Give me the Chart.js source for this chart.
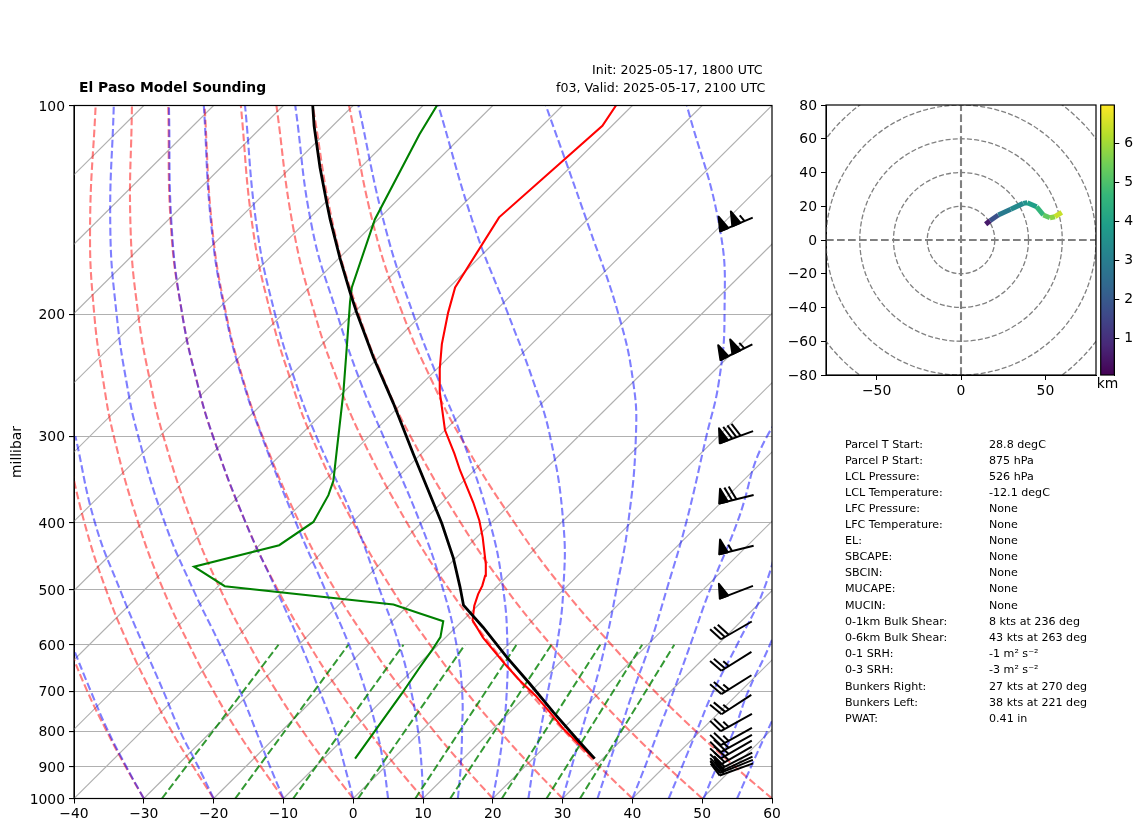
<!DOCTYPE html>
<html>
<head>
<meta charset="utf-8">
<title>El Paso Model Sounding</title>
<script src="https://cdn.jsdelivr.net/npm/chart.js@4"></script>
<style>
  body { margin: 0; background: #fff; width: 1142px; height: 832px; overflow: hidden; font-family: "DejaVu Sans", sans-serif; color: #000; }
  canvas { position: absolute; }
  .txt { position: absolute; white-space: nowrap; line-height: 1; }
</style>
</head>
<body>
<canvas id="skewt" width="1142" height="832" style="left:0;top:0"></canvas>
<canvas id="hodo" width="330" height="325" style="left:775px;top:75px"></canvas>
<canvas id="cbar" width="52" height="320" style="left:1090px;top:75px"></canvas>
<div id="texts"></div>
<script>
// axis ticks
const pressureTicks = [100, 200, 300, 400, 500, 600, 700, 800, 900, 1000];
const tempTicks = [-40, -30, -20, -10, 0, 10, 20, 30, 40, 50, 60];

// observed traces, pressure and position read on the skewed x axis
const tempP = [876, 834, 793, 751, 710, 676, 639, 586, 553, 527, 507, 493, 477, 459, 420, 397, 374, 336, 318, 294, 277, 259, 240, 221, 199, 183, 145, 107, 100];
const tempX = [34.5, 32.3, 30.1, 28.2, 26.1, 23.9, 21.7, 18.6, 17.1, 17.35, 17.9, 18.5, 18.9, 19.0, 18.55, 18.07, 17.2, 15.3, 14.5, 13.15, 12.8, 12.4, 12.4, 12.7, 13.6, 14.6, 20.9, 35.7, 37.65];
const dewP = [876, 811, 706, 646, 612, 585, 555, 541, 525, 494, 463, 431, 399, 365, 348, 315, 259, 224, 192, 183, 146, 110, 100];
const dewX = [0.27, 2.66, 6.95, 9.57, 11.24, 12.5, 12.9, 9.57, 5.76, -18.4, -22.8, -10.6, -5.7, -3.55, -2.84, -2.36, -1.4, -0.93, -0.45, -0.2, 3.1, 9.5, 12.0];
const parcelP = [876, 820, 751, 683, 625, 566, 526, 495, 450, 401, 336, 318, 269, 231, 199, 186, 166, 146, 138, 123, 107, 100];
const parcelX = [34.6, 32.0, 28.7, 25.3, 22.0, 18.6, 15.8, 15.3, 14.35, 12.7, 9.57, 8.6, 5.76, 2.9, 0.5, -0.45, -1.9, -3.3, -3.8, -4.75, -5.6, -5.8];

// background lines, read at these pressures
const adiabatLevels = [1000, 900, 800, 700, 600, 500, 400, 300, 250, 200, 150, 100];
const dryAdiabats = [
  [-30, -32.6, -35.3, -38.1, -40.8, -43.6],
  [-20, -22.9, -26, -29, -32.2, -35.4, -38.5, -41.4],
  [-10, -13.2, -16.6, -20, -23.5, -27.2, -30.8, -34.3, -35.8, -37.1, -37.7, -36.9],
  [0, -3.5, -7.2, -11, -14.9, -19, -23.1, -27.2, -29.1, -30.8, -31.9, -31.7],
  [10, 6.2, 2.2, -2, -6.3, -10.8, -15.4, -20.1, -22.4, -24.5, -26.1, -26.5],
  [20, 15.9, 11.6, 7.1, 2.4, -2.6, -7.7, -13, -15.7, -18.2, -20.2, -21.3],
  [30, 25.6, 21, 16.1, 11, 5.6, 0, -6, -8.9, -11.8, -14.4, -16.1],
  [40, 35.3, 30.3, 25.1, 19.7, 13.8, 7.7, 1.1, -2.2, -5.5, -8.6, -11],
  [50, 45, 39.7, 34.2, 28.3, 22, 15.4, 8.2, 4.5, 0.8, -2.8, -5.8],
  [60, 54.7, 49.1, 43.2, 37, 30.2, 23.1, 15.3, 11.3, 7.1, 3, -0.6]
];
const moistAdiabats = [
  [-30, -32.5, -35.1, -37.6, -40.3],
  [-20, -22.2, -24.8, -27.2, -30.1, -33.4, -37, -39.8],
  [-10, -11.9, -13.9, -16.2, -19.1, -22.9, -27, -30.8, -32.5, -33.9, -34.8, -34.3],
  [0, -1.2, -2.6, -4.8, -7.5, -11, -15.4, -20.1, -22.4, -24.5, -26, -26.4],
  [5, 4.4, 3.4, 1.8, -0.6, -4, -8.2, -13.1, -15.8, -18.3, -20.3, -21.4],
  [10, 9.8, 9.3, 8.3, 6.6, 3.8, 0.3, -5.3, -8.3, -11.2, -13.8, -15.5],
  [15, 15.4, 15.6, 15.6, 14.8, 12.9, 9.6, 4.3, 1, -2.3, -5.9, -8.3],
  [20, 20.8, 21.5, 22, 22.1, 21.5, 19.6, 15.5, 12.3, 8.6, 4.6, 0.75],
  [25.1, 25.8, 26.8, 27.9, 29.2, 30.1, 30.1, 28.2, 25.8, 22.2, 17.4, 12.2],
  [30, 31.3, 32.7, 34.4, 36.1, 37.7, 39.4, 40.5, 40.1, 38, 33.8, 27.6],
  [35, 36.5, 38.2, 40.1, 42.5, 44.9, 47.7, 50.6, 52.4, 53.2, 52.5, 47.8],
  [40, 41.8, 43.7, 45.9, 48.3, 51.1, 55, 59.3, 66],
  [45.2, 47.1, 49.2, 51.6, 55, 58.8, 61.6],
  [50.2, 52.1, 54.5, 56.6, 59.7, 62.8],
  [55, 57, 59.3, 62.1]
];
// mixing ratio lines run from 1000 up to 600 mb
const mixingBottomX = [-27.4, -16.9, -8.6, 0.7, 8.9, 13.9, 21.3, 27.7, 32.5];
const mixingTopX = [-10.7, -0.7, 7.2, 16, 23.4, 28.4, 35.4, 41.4, 46];
// isotherms, x at 1000 mb and 100 mb
const isothermBottomX = [-130, -120, -110, -100, -90, -80, -70, -60, -50, -40, -30, -20, -10, 0, 10, 20, 30, 40, 50];
const isothermTopX = [-30, -20, -10, 0, 10, 20, 30, 40, 50, 60, 70, 80, 90, 100, 110, 120, 130, 140, 150];

// wind barbs
const barbP = [148.5, 227, 301, 370, 438, 504, 572, 634, 685, 732, 777, 814, 833, 850, 867, 882, 892, 899, 908];
const barbSpeed = [105, 105, 80, 70, 55, 50, 30, 25, 25, 25, 25, 25, 25, 25, 25, 20, 20, 20, 20];
const barbDir = [247, 244, 250, 256, 256, 249, 240, 238, 238, 237, 241, 241, 241, 240, 240, 243, 245, 248, 250];

// hodograph
const hodoU = [14.6, 17.2, 22.1, 29.5, 36.9, 39.3, 44.8, 48.8, 52.7, 55.7, 59.7];
const hodoV = [9.3, 11.4, 14.8, 18.2, 21.7, 22.1, 19.7, 14.8, 13.2, 13.8, 16.4];
const hodoKm = [0.05, 1.0, 2.6, 3.2, 3.5, 3.7, 4.2, 5.0, 5.5, 6.0, 6.8];
const hodoRings = [20, 40, 60, 80, 100, 120];
const hodoXTicks = [-50, 0, 50];
const hodoYTicks = [-80, -60, -40, -20, 0, 20, 40, 60, 80];
const cbarTicks = [1, 2, 3, 4, 5, 6];
const cbarRange = [0.06, 6.98];

// sounding stats
const statLabels = ["Parcel T Start:", "Parcel P Start:", "LCL Pressure:", "LCL Temperature:", "LFC Pressure:", "LFC Temperature:", "EL:", "SBCAPE:", "SBCIN:", "MUCAPE:", "MUCIN:", "0-1km Bulk Shear:", "0-6km Bulk Shear:", "0-1 SRH:", "0-3 SRH:", "Bunkers Right:", "Bunkers Left:", "PWAT:"];
const statValues = ["28.8 degC", "875 hPa", "526 hPa", "-12.1 degC", "None", "None", "None", "None", "None", "None", "None", "8 kts at 236 deg", "43 kts at 263 deg", "-1 m² s⁻²", "-3 m² s⁻²", "27 kts at 270 deg", "38 kts at 221 deg", "0.41 in"];

const FONT = "'DejaVu Sans'";
const viridis = ["#440154", "#482878", "#3e4989", "#31688e", "#26828e", "#1f9e89", "#35b779", "#6ece58", "#b5de2b", "#fde725"];
const dash = [7.7, 3.3];

Chart.defaults.font.family = FONT;
Chart.defaults.font.size = 13.9;
Chart.defaults.color = "#000";
Chart.defaults.animation = false;

function zip(xs, ps) {
    return xs.map((x, i) => ({ x: x, y: ps[i] }));
}

function hexToRgb(h) {
    return [1, 3, 5].map(i => parseInt(h.substr(i, 2), 16));
}

function viridisAt(km) {
    let t = (km - cbarRange[0]) / (cbarRange[1] - cbarRange[0]);
    t = Math.min(0.9999, Math.max(0, t)) * (viridis.length - 1);
    const i = Math.floor(t);
    const a = hexToRgb(viridis[i]), b = hexToRgb(viridis[i + 1]);
    const c = a.map((v, k) => Math.round(v + (b[k] - v) * (t - i)));
    return "rgb(" + c.join(",") + ")";
}

function minusSign(v) {
    return String(v).replace("-", "\u2212");
}

// solid traces go first, the first dataset ends up on top
const datasets = [
    { data: zip(parcelX, parcelP), borderColor: "#000", borderWidth: 2.8 },
    { data: zip(tempX, tempP), borderColor: "#f00", borderWidth: 2.1 },
    { data: zip(dewX, dewP), borderColor: "#008000", borderWidth: 2.1 }
];
mixingBottomX.forEach((x, i) => {
    datasets.push({ data: [{ x: x, y: 1000 }, { x: mixingTopX[i], y: 600 }], borderColor: "rgba(0,128,0,0.8)", borderWidth: 2, borderDash: dash });
});
moistAdiabats.forEach(line => {
    datasets.push({ data: zip(line, adiabatLevels), borderColor: "rgba(0,0,255,0.5)", borderWidth: 2.1, borderDash: dash, tension: 0.45 });
});
dryAdiabats.forEach(line => {
    datasets.push({ data: zip(line, adiabatLevels), borderColor: "rgba(255,0,0,0.5)", borderWidth: 2.1, borderDash: dash, tension: 0.45 });
});
isothermBottomX.forEach((x, i) => {
    datasets.push({ data: [{ x: x, y: 1000 }, { x: isothermTopX[i], y: 100 }], borderColor: "#b0b0b0", borderWidth: 1.1 });
});

function drawBarb(ctx, cx, cy, speed, dir) {
    const L = 35.5, spacing = L * 0.125, height = L * 0.4, width = L * 0.25;
    const rad = dir * Math.PI / 180;
    // unit vector from the flag end to the tip of the staff
    const ux = -Math.sin(rad), uy = Math.cos(rad);
    const nx = uy, ny = -ux;
    const endX = cx - ux * L / 2, endY = cy - uy * L / 2;
    const at = (s, h) => [endX + ux * s + nx * h, endY + uy * s + ny * h];
    ctx.beginPath();
    ctx.moveTo(endX, endY);
    ctx.lineTo(endX + ux * L, endY + uy * L);
    ctx.stroke();
    let rest = Math.round(speed / 5) * 5, s = 0;
    while (rest >= 50) {
        const a = at(s, 0), b = at(s + width / 2, height), c = at(s + width, 0);
        ctx.beginPath();
        ctx.moveTo(a[0], a[1]); ctx.lineTo(b[0], b[1]); ctx.lineTo(c[0], c[1]);
        ctx.closePath();
        ctx.fill();
        ctx.stroke();
        s += width + spacing;
        rest -= 50;
    }
    while (rest >= 10) {
        const a = at(s, 0), b = at(s - width / 2, height);
        ctx.beginPath();
        ctx.moveTo(a[0], a[1]); ctx.lineTo(b[0], b[1]);
        ctx.stroke();
        s += spacing;
        rest -= 10;
    }
    if (rest >= 5) {
        if (s === 0) s = 1.5 * spacing;
        const a = at(s, 0), b = at(s - width / 4, height / 2);
        ctx.beginPath();
        ctx.moveTo(a[0], a[1]); ctx.lineTo(b[0], b[1]);
        ctx.stroke();
    }
}

const barbX = 54.9;
const barbPlugin = {
    id: "barbs",
    afterDatasetsDraw(chart) {
        const ctx = chart.ctx, xs = chart.scales.x, ys = chart.scales.y;
        ctx.save();
        ctx.strokeStyle = "#000";
        ctx.fillStyle = "#000";
        ctx.lineWidth = 2;
        ctx.lineJoin = "round";
        barbP.forEach((p, i) => {
            drawBarb(ctx, xs.getPixelForValue(barbX), ys.getPixelForValue(p), barbSpeed[i], barbDir[i]);
        });
        ctx.restore();
    }
};

const framePlugin = {
    id: "frame",
    afterDraw(chart) {
        const a = chart.chartArea, ctx = chart.ctx;
        ctx.save();
        ctx.strokeStyle = "#000";
        ctx.lineWidth = 1.2;
        ctx.strokeRect(a.left, a.top, a.right - a.left, a.bottom - a.top);
        ctx.restore();
    }
};

new Chart(document.getElementById("skewt"), {
    type: "scatter",
    data: { datasets: datasets.map(d => Object.assign({ showLine: true, pointRadius: 0, fill: false }, d)) },
    options: {
        responsive: false,
        events: [],
        layout: { padding: { top: 105.5, left: 0, right: 370, bottom: 0 } },
        plugins: { legend: { display: false }, tooltip: { enabled: false } },
        scales: {
            x: {
                type: "linear", min: -40, max: 60,
                afterFit: s => { s.height = 33.5; },
                afterBuildTicks: s => { s.ticks = tempTicks.map(v => ({ value: v })); },
                grid: { drawOnChartArea: false, tickColor: "#000", tickLength: 5 },
                border: { color: "#000" },
                ticks: { maxRotation: 0, autoSkip: false, padding: 3, callback: minusSign }
            },
            y: {
                type: "logarithmic", min: 100, max: 1000, reverse: true,
                afterFit: s => { s.width = 74; },
                afterBuildTicks: s => { s.ticks = pressureTicks.map(v => ({ value: v })); },
                grid: { color: "#b0b0b0", lineWidth: 1.1, tickColor: "#000", tickLength: 5 },
                border: { color: "#000" },
                ticks: { autoSkip: false, padding: 4, labelOffset: 1.5, callback: v => String(v) },
                title: { display: true, text: "millibar", padding: { top: 9, bottom: 0 }, font: { size: 13.9 } }
            }
        }
    },
    plugins: [barbPlugin, framePlugin]
});

const ringPlugin = {
    id: "rings",
    beforeDatasetsDraw(chart) {
        const a = chart.chartArea, ctx = chart.ctx, xs = chart.scales.x, ys = chart.scales.y;
        const cx = xs.getPixelForValue(0), cy = ys.getPixelForValue(0);
        ctx.save();
        ctx.beginPath();
        ctx.rect(a.left, a.top, a.right - a.left, a.bottom - a.top);
        ctx.clip();
        ctx.strokeStyle = "#808080";
        ctx.lineWidth = 1.3;
        ctx.setLineDash([5, 2.2]);
        hodoRings.forEach(r => {
            ctx.beginPath();
            ctx.arc(cx, cy, xs.getPixelForValue(r) - cx, 0, Math.PI * 2);
            ctx.stroke();
        });
        ctx.restore();
    }
};

new Chart(document.getElementById("hodo"), {
    type: "scatter",
    data: {
        datasets: [
            {
                data: zip(hodoU, hodoV), showLine: true, pointRadius: 0, borderWidth: 5, borderColor: viridis[4],
                segment: { borderColor: c => viridisAt((hodoKm[c.p0DataIndex] + hodoKm[c.p1DataIndex]) / 2) }
            },
            { data: [{ x: -80, y: 0 }, { x: 80, y: 0 }], showLine: true, pointRadius: 0, borderColor: "#808080", borderWidth: 2.1, borderDash: dash },
            { data: [{ x: 0, y: -80 }, { x: 0, y: 80 }], showLine: true, pointRadius: 0, borderColor: "#808080", borderWidth: 2.1, borderDash: dash }
        ]
    },
    options: {
        responsive: false,
        events: [],
        layout: { padding: { top: 30, left: 0, right: 9, bottom: 0 } },
        plugins: { legend: { display: false }, tooltip: { enabled: false } },
        scales: {
            x: {
                type: "linear", min: -80, max: 80,
                afterFit: s => { s.height = 25; },
                afterBuildTicks: s => { s.ticks = hodoXTicks.map(v => ({ value: v })); },
                grid: { drawOnChartArea: false, tickColor: "#000", tickLength: 5 },
                border: { color: "#000" },
                ticks: { maxRotation: 0, autoSkip: false, padding: 3, callback: minusSign }
            },
            y: {
                type: "linear", min: -80, max: 80,
                afterFit: s => { s.width = 51; },
                afterBuildTicks: s => { s.ticks = hodoYTicks.map(v => ({ value: v })); },
                grid: { drawOnChartArea: false, tickColor: "#000", tickLength: 5 },
                border: { color: "#000" },
                ticks: { autoSkip: false, padding: 4, labelOffset: 1, callback: minusSign }
            }
        }
    },
    plugins: [ringPlugin, framePlugin]
});

new Chart(document.getElementById("cbar"), {
    type: "bar",
    data: {
        labels: ["km"],
        datasets: [{
            data: [cbarRange],
            barPercentage: 1,
            categoryPercentage: 1,
            backgroundColor: c => {
                const a = c.chart.chartArea;
                if (!a) return viridis[4];
                const g = c.chart.ctx.createLinearGradient(0, a.bottom, 0, a.top);
                viridis.forEach((v, i) => g.addColorStop(i / (viridis.length - 1), v));
                return g;
            }
        }]
    },
    options: {
        responsive: false,
        events: [],
        layout: { padding: { top: 30, left: 10.7, right: 0, bottom: 0 } },
        plugins: { legend: { display: false }, tooltip: { enabled: false } },
        scales: {
            x: {
                afterFit: s => { s.height = 20; },
                grid: { display: false, drawTicks: false },
                border: { display: false },
                ticks: { padding: 1 }
            },
            y: {
                type: "linear", position: "right", min: cbarRange[0], max: cbarRange[1],
                afterFit: s => { s.width = 27.7; },
                afterBuildTicks: s => { s.ticks = cbarTicks.map(v => ({ value: v })); },
                grid: { drawOnChartArea: false, tickColor: "#000", tickLength: 5 },
                border: { color: "#000" },
                ticks: { autoSkip: false, padding: 5 }
            }
        }
    },
    plugins: [framePlugin]
});

// titles and the stats table are plain text on top of the canvases
const texts = document.getElementById("texts");
function addText(str, left, centerY, size, bold) {
    const d = document.createElement("div");
    d.className = "txt";
    d.textContent = str;
    d.style.left = left + "px";
    d.style.top = (centerY - size / 2) + "px";
    d.style.fontSize = size + "px";
    if (bold) d.style.fontWeight = "bold";
    texts.appendChild(d);
}
addText("El Paso Model Sounding", 79, 88, 13.9, true);
addText("Init: 2025-05-17, 1800 UTC", 592, 70, 12.6, false);
addText("f03, Valid: 2025-05-17, 2100 UTC", 556, 88, 12.6, false);
const statRowY = [444.5, 460.5, 476.5, 492.5, 508.5, 524.5, 541, 557, 573, 589, 605.5, 622, 638, 654, 670, 686.5, 702.5, 719];
statLabels.forEach((t, i) => {
    addText(t, 845, statRowY[i], 11.1, false);
    addText(statValues[i], 989, statRowY[i], 11.1, false);
});
</script>
</body>
</html>
